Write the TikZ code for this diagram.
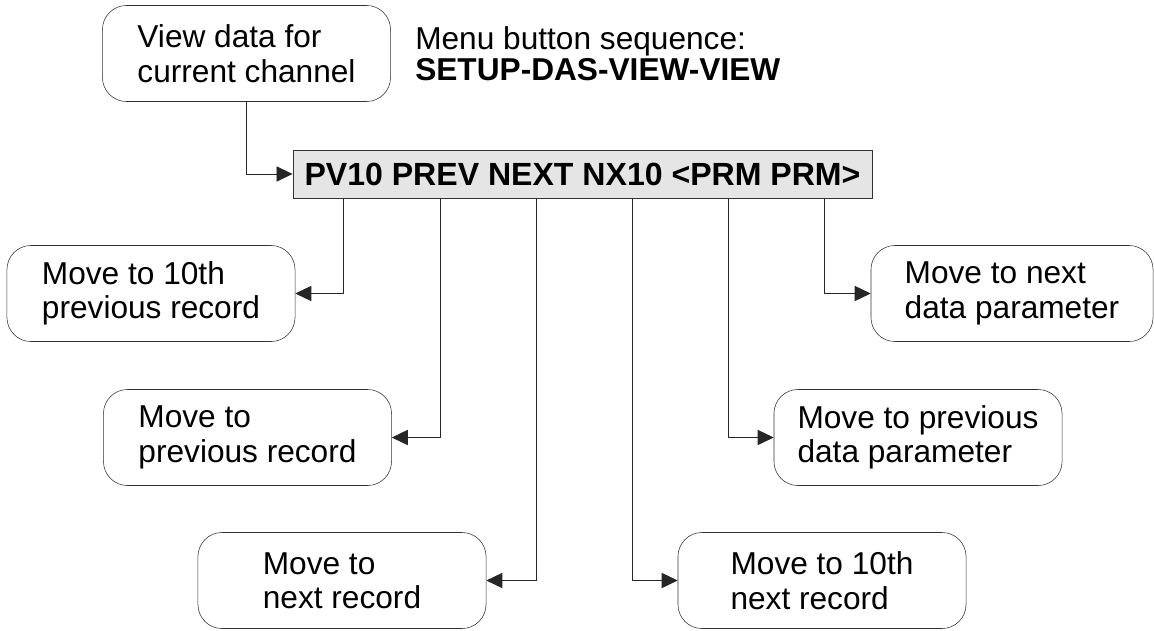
\documentclass[tikz,border=0pt]{standalone}
\usepackage{fontspec}
\setmainfont{Liberation Sans}
\usepackage{tikz}
\usetikzlibrary{arrows.meta,positioning,calc}
\tikzset{%
	action/.style = {draw=black!80, rectangle, rounded corners=0.6cm, minimum width=7.2cm, minimum height=2.4cm, align=left, inner sep=0pt},
	keybar/.style = {draw=black!80, fill=black!10, rectangle, minimum width=14.48cm, minimum height=1.2cm, font=\fontsize{22.8}{24.5}\selectfont\bfseries, inner sep=0pt},
	arrow/.style  = {draw=black!85, line width=0.6pt, -{Triangle[length=0.4cm,width=0.38cm]}},
}

\begin{document}
\begin{tikzpicture}[x=0.025cm, y=-0.025cm, every node/.style={font=\fontsize{22.5}{24.5}\selectfont}]
	\useasboundingbox (0,0) rectangle (1154,630);
	% top
	\node[action] (view) at (246.5,53.5) {View data for\\current channel};
	\node[anchor=base west, align=left, inner sep=0pt] (menu) at (415,81) {Menu button sequence:\\[-1.8pt]\textbf{SETUP-DAS-VIEW-VIEW}};
	\node[keybar] (bar) at (582.5,174) {PV10 PREV NEXT NX10 <PRM PRM>};
	\draw[arrow] (view.south) |- (bar.west);
	
	% keys on the bar
	\coordinate (pv10) at (343,198);
	\coordinate (prev) at (440,198);
	\coordinate (next) at (536,198);
	\coordinate (nx10) at (632,198);
	\coordinate (prml) at (728,198);
	\coordinate (prmr) at (824,198);
	
	% left side
	\node[action] (tenprev) at (151,293.5) {Move to 10th\\previous record};
	\node[action] (oneprev) at (247.5,437.5) {Move to\\previous record};
	\node[action] (onenext) at (342,580.5) {Move to\\next record};
	\draw[arrow] (pv10) |- (tenprev.east);
	\draw[arrow] (prev) |- (oneprev.east);
	\draw[arrow] (next) |- (onenext.east);
	
	% right side
	\node[action] (tennext) at (822,580.5) {Move to 10th\\next record};
	\node[action] (prmprev) at (918,437.5) {Move to previous\\data parameter};
	\node[action, minimum width=7.05cm] (prmnext) at (1012,293.5) {Move to next\\data parameter};
	\draw[arrow] (nx10) |- (tennext.west);
	\draw[arrow] (prml) |- (prmprev.west);
	\draw[arrow] (prmr) |- (prmnext.west);
\end{tikzpicture}
\end{document}
